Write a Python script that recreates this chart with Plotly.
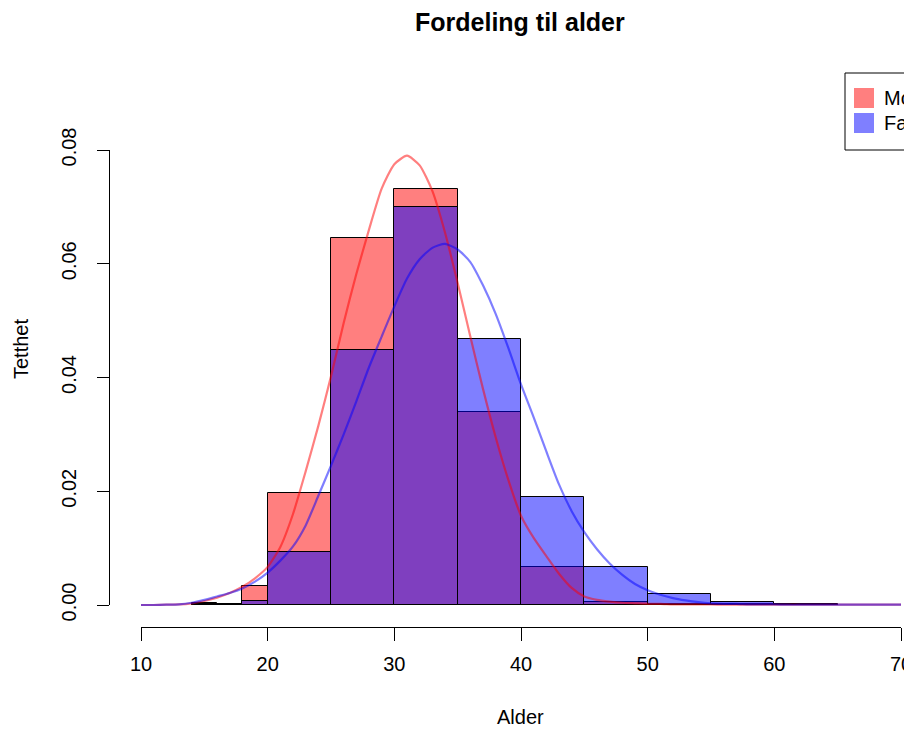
import plotly.graph_objects as go

W, H = 912, 729
OFF = 8                    # page body margin in the browser
FW, FH = W - OFF, H - OFF  # figure size

# ---------------- data ----------------
bin_edges = [14, 16, 18, 20, 25, 30, 35, 40, 45, 50, 55, 60, 65]
mor_hist = [0.0003, 0.0001, 0.0034, 0.0197, 0.0645, 0.0731, 0.0340, 0.0067, 0.0005, 0.0002, 0.0001, 0.0]
far_hist = [0.0001, 0.0001, 0.0007, 0.0093, 0.0448, 0.0700, 0.0468, 0.0190, 0.0067, 0.0019, 0.0005, 0.0001]

kde_age = list(range(10, 71))
mor_kde = [0.0, 0.0, 0.00005, 0.0001, 0.0003, 0.0007, 0.0013, 0.0021, 0.0032, 0.0047,
           0.0067, 0.0102, 0.0160, 0.0235, 0.0315, 0.0402, 0.0496, 0.0582, 0.0660, 0.0732,
           0.0775, 0.0790, 0.0773, 0.0728, 0.0655, 0.0566, 0.0472, 0.0380, 0.0295, 0.0220,
           0.0157, 0.0118, 0.0086, 0.0055, 0.0030, 0.0015, 0.0009, 0.0006, 0.0004, 0.0003,
           0.0002, 0.0002, 0.0001, 0.0001, 0.0001, 0.0001, 0.00005, 0.00005, 0.00005, 0.00005,
           0.00005, 0.00005, 0.00005, 0.00005, 0.00005, 0.00005, 0.00005, 0.00005, 0.00005, 0.00005,
           0.00005]
far_kde = [0.0, 0.0, 0.00005, 0.0001, 0.0004, 0.0009, 0.0015, 0.0021, 0.0029, 0.0041,
           0.0057, 0.0078, 0.0103, 0.0140, 0.0192, 0.0245, 0.0300, 0.0358, 0.0418, 0.0472,
           0.0525, 0.0574, 0.0608, 0.0628, 0.0635, 0.0625, 0.0603, 0.0562, 0.0512, 0.0452,
           0.0388, 0.0330, 0.0270, 0.0212, 0.0165, 0.0128, 0.0098, 0.0073, 0.0053, 0.0037,
           0.0026, 0.0018, 0.0012, 0.0008, 0.0005, 0.0003, 0.0002, 0.0002, 0.0001, 0.0001,
           0.0001, 0.00005, 0.00005, 0.00005, 0.00005, 0.00005, 0.00005, 0.00005, 0.00005, 0.00005,
           0.00005]

x_ticks = [10, 20, 30, 40, 50, 60, 70]
y_ticks = [0.0, 0.02, 0.04, 0.06, 0.08]
y_tick_labels = ["0.00", "0.02", "0.04", "0.06", "0.08"]

series_names = ["Mor", "Far"]
title_text = "Fordeling til alder"
x_label = "Alder"
y_label = "Tetthet"

RED_FILL = "rgba(255,0,0,0.5)"
BLUE_FILL = "rgba(0,0,255,0.5)"
FONT = "Liberation Sans, Arial, Helvetica, sans-serif"

# ---------------- geometry (window pixels) ----------------
AX_X0, AX_X1 = 141, 901      # pixel of x=10 and x=70
AX_Y0, AX_Y1 = 605, 150      # pixel of y=0 and y=0.08
XLINE_Y = 627
YLINE_X = 109


def px(x):
    return (x - OFF) / FW


def py(y):
    return 1 - (y - OFF) / FH


def data_x(p):
    return x_ticks[0] + (p - AX_X0) * (x_ticks[-1] - x_ticks[0]) / (AX_X1 - AX_X0)


def data_y(p):
    return (AX_Y0 - p) * (y_ticks[-1] - y_ticks[0]) / (AX_Y0 - AX_Y1)


mids = [(a + b) / 2 for a, b in zip(bin_edges[:-1], bin_edges[1:])]
widths = [b - a for a, b in zip(bin_edges[:-1], bin_edges[1:])]

fig = go.Figure()

fig.add_trace(go.Bar(x=mids, y=mor_hist, width=widths, name=series_names[0],
                     marker=dict(color=RED_FILL, line=dict(color="black", width=1)),
                     showlegend=False, hoverinfo="skip"))
fig.add_trace(go.Bar(x=mids, y=far_hist, width=widths, name=series_names[1],
                     marker=dict(color=BLUE_FILL, line=dict(color="black", width=1)),
                     showlegend=False, hoverinfo="skip"))
fig.add_trace(go.Scatter(x=kde_age, y=mor_kde, mode="lines", name=series_names[0] + " tetthet",
                         line=dict(color=RED_FILL, width=2.2, shape="spline", smoothing=0.6),
                         showlegend=False, hoverinfo="skip"))
fig.add_trace(go.Scatter(x=kde_age, y=far_kde, mode="lines", name=series_names[1] + " tetthet",
                         line=dict(color=BLUE_FILL, width=2.2, shape="spline", smoothing=0.6),
                         showlegend=False, hoverinfo="skip"))
# invisible trace to realise the display-axes subplot
fig.add_trace(go.Scatter(x=kde_age, y=far_kde, mode="lines", line=dict(width=0),
                         xaxis="x2", yaxis="y2", showlegend=False, hoverinfo="skip"))

fig.update_layout(
    width=FW, height=FH,
    margin=dict(l=0, r=0, t=0, b=0, autoexpand=False),
    paper_bgcolor="white", plot_bgcolor="rgba(0,0,0,0)",
    barmode="overlay", bargap=0,
    showlegend=False,
    font=dict(family=FONT, size=20, color="black"),
    xaxis=dict(domain=[px(YLINE_X), 1.0], range=[data_x(YLINE_X), data_x(W)],
               visible=False, fixedrange=True),
    yaxis=dict(domain=[py(XLINE_Y), py(140)], range=[data_y(XLINE_Y), data_y(140)],
               visible=False, fixedrange=True),
    xaxis2=dict(domain=[px(AX_X0), px(AX_X1)], range=[x_ticks[0], x_ticks[-1]],
                anchor="free", position=py(XLINE_Y),
                tickvals=x_ticks, ticks="outside", ticklen=13, tickwidth=1, tickcolor="black",
                showline=True, linecolor="black", linewidth=1,
                showgrid=False, zeroline=False, ticklabelstandoff=6,
                ticklabeloverflow="allow",
                tickfont=dict(family=FONT, size=20, color="black")),
    yaxis2=dict(domain=[py(AX_Y0), py(AX_Y1)], range=[y_ticks[0], y_ticks[-1]],
                anchor="free", position=px(YLINE_X),
                tickvals=y_ticks, ticktext=y_tick_labels, tickangle=-90,
                ticks="outside", ticklen=12, tickwidth=1, tickcolor="black",
                showline=True, linecolor="black", linewidth=1,
                showgrid=False, zeroline=False, ticklabelstandoff=13,
                ticklabeloverflow="allow",
                tickfont=dict(family=FONT, size=20, color="black")),
)

annotations = [
    dict(text="<b>" + title_text + "</b>", x=px(520), y=py(22), xref="paper", yref="paper",
         xanchor="center", yanchor="middle", showarrow=False, font=dict(size=25, family=FONT)),
    dict(text=x_label, x=px(520), y=py(717), xref="paper", yref="paper",
         xanchor="center", yanchor="middle", showarrow=False, font=dict(size=20, family=FONT)),
    dict(text=y_label, x=px(21), y=py(349), xref="paper", yref="paper", textangle=-90,
         xanchor="center", yanchor="middle", showarrow=False, font=dict(size=20, family=FONT)),
    dict(text=series_names[0], x=px(882), y=py(98), xref="paper", yref="paper",
         xanchor="left", yanchor="middle", showarrow=False, font=dict(size=20, family=FONT)),
    dict(text=series_names[1], x=px(882), y=py(123), xref="paper", yref="paper",
         xanchor="left", yanchor="middle", showarrow=False, font=dict(size=20, family=FONT)),
]
fig.update_layout(annotations=annotations)

shapes = [
    dict(type="rect", xref="paper", yref="paper", x0=px(845), x1=px(960), y0=py(150), y1=py(73),
         line=dict(color="black", width=1), fillcolor="white", layer="above"),
    dict(type="rect", xref="paper", yref="paper", x0=px(854), x1=px(874), y0=py(108), y1=py(88),
         line=dict(width=0), fillcolor=RED_FILL, layer="above"),
    dict(type="rect", xref="paper", yref="paper", x0=px(854), x1=px(874), y0=py(133), y1=py(113),
         line=dict(width=0), fillcolor=BLUE_FILL, layer="above"),
]
fig.update_layout(shapes=shapes)

fig.write_html("out.html")
